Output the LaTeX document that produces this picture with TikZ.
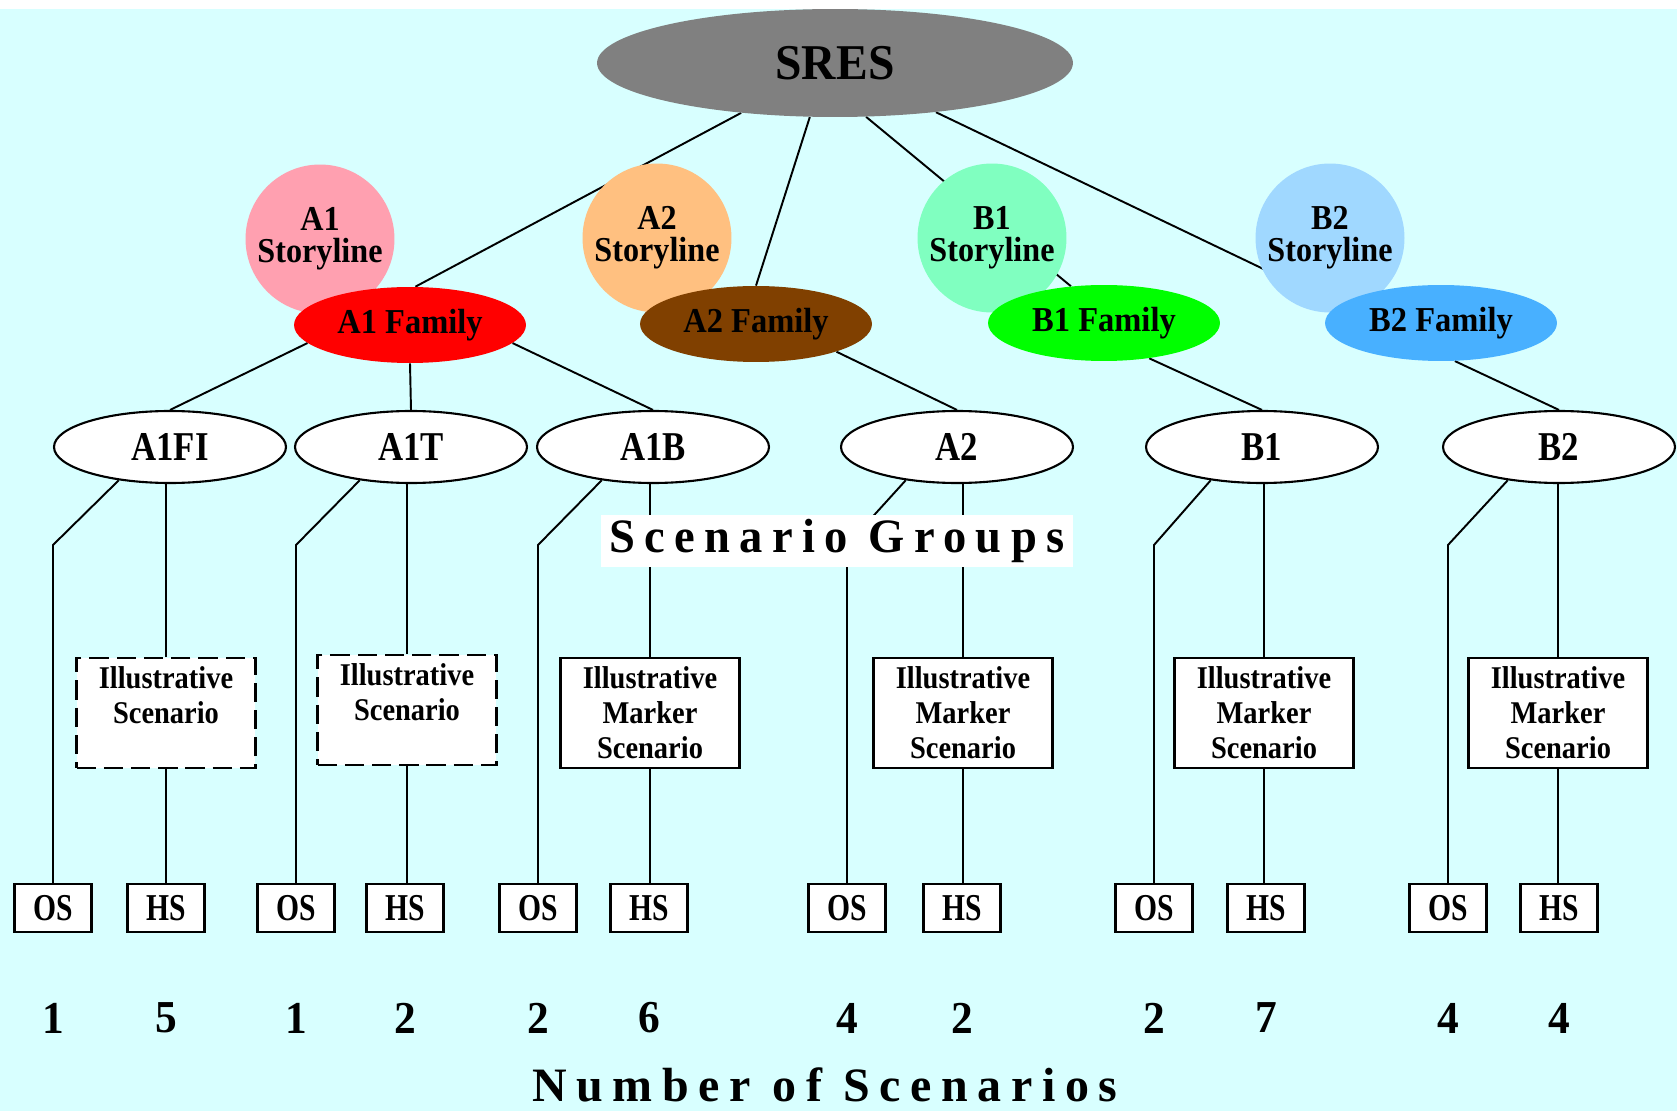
\documentclass[tikz,border=0pt]{standalone}
\usepackage{graphicx}
\usepackage{fontspec}
\setmainfont{Liberation Serif}
\newfontfamily\spacedfont[LetterSpace=20]{Liberation Serif}
\usetikzlibrary{shapes.geometric}
\pgfdeclarelayer{back}
\pgfdeclarelayer{wires}
\pgfsetlayers{back,wires,main}
\definecolor{sky}{HTML}{D8FFFF}
\definecolor{sresgray}{HTML}{808080}
\definecolor{aonestory}{HTML}{FFA0B0}
\definecolor{atwostory}{HTML}{FFC080}
\definecolor{bonestory}{HTML}{80FFC0}
\definecolor{btwostory}{HTML}{A0D8FF}
\definecolor{atwofam}{HTML}{804000}
\definecolor{btwofam}{HTML}{48B0FF}
\newcommand\nar[2]{\scalebox{#1}[1]{#2}}

\begin{document}
\begin{tikzpicture}[x=0.02cm,y=-0.02cm,
  wire/.style={line width=1.1pt},
  story/.style={circle,inner sep=0pt,minimum size=2.98cm,align=center,
    font=\fontsize{19.9}{18.2}\selectfont\bfseries},
  family/.style={ellipse,inner sep=0pt,minimum width=4.64cm,minimum height=1.52cm,
    font=\fontsize{19.9}{20}\selectfont\bfseries},
  group/.style={ellipse,draw,fill=white,line width=1.2pt,inner sep=0pt,
    minimum width=4.64cm,minimum height=1.44cm,font=\fontsize{23.3}{24}\selectfont\bfseries},
  marker/.style={draw,fill=white,line width=1.5pt,inner sep=0pt,align=center,
    minimum width=3.58cm,minimum height=2.2cm,font=\fontsize{18}{20}\selectfont\bfseries},
  illus/.style={marker,dash pattern=on 11pt off 4.5pt},
  leaf/.style={draw,fill=white,line width=1.4pt,inner sep=0pt,
    minimum width=1.54cm,minimum height=0.96cm,font=\fontsize{21.6}{22}\selectfont\bfseries},
  count/.style={inner sep=0pt,font=\fontsize{26}{26}\selectfont\bfseries},
  heading/.style={inner sep=0pt,font=\fontsize{27.3}{28}\spacedfont\bfseries}]

\useasboundingbox (0,0) rectangle (1677,1111);
\begin{pgfonlayer}{back}
\fill[white] (0,0) rectangle (1677,1111);
\fill[sky] (0,9) rectangle (1677,1111);
\end{pgfonlayer}

% top of the tree
\node[ellipse,fill=sresgray,inner sep=0pt,minimum width=9.52cm,minimum height=2.16cm,
  font=\fontsize{28.5}{30}\selectfont\bfseries] (sres) at (835,63) {\nar{.95}{SRES}};

% storylines and families
\node[story,fill=aonestory] (a1story) at (320,239) {\nar{.92}{A1}\\\nar{.92}{Storyline}};
\node[story,fill=atwostory] (a2story) at (657,238) {\nar{.92}{A2}\\\nar{.92}{Storyline}};
\node[story,fill=bonestory] (b1story) at (992,238) {\nar{.92}{B1}\\\nar{.92}{Storyline}};
\node[story,fill=btwostory] (b2story) at (1330,238) {\nar{.92}{B2}\\\nar{.92}{Storyline}};
\node[family,fill=red] (a1fam) at (410,325) {\nar{.93}{A1 Family}};
\node[family,fill=atwofam] (a2fam) at (756,324) {\nar{.93}{A2 Family}};
\node[family,fill=green] (b1fam) at (1104,323) {\nar{.93}{B1 Family}};
\node[family,fill=btwofam] (b2fam) at (1441,323) {\nar{.93}{B2 Family}};

% scenario groups
\node[group] (a1fi) at (170,447) {\nar{.85}{A1FI}};
\node[group] (a1t) at (411,447) {\nar{.85}{A1T}};
\node[group] (a1b) at (653,447) {\nar{.85}{A1B}};
\node[group] (a2) at (957,447) {\nar{.85}{A2}};
\node[group] (b1) at (1262,447) {\nar{.85}{B1}};
\node[group] (b2) at (1559,447) {\nar{.85}{B2}};

\node[heading,fill=white,minimum width=9.46cm,minimum height=1.04cm] (grouplabel) at (837,541)
  {\nar{.97}{Scenario Groups}};

% illustrative scenarios
\node[illus] (im1) at (166,713) {\nar{.9}{Illustrative}\\\nar{.9}{Scenario}\\\vphantom{S}};
\node[illus] (im2) at (407,710) {\nar{.9}{Illustrative}\\\nar{.9}{Scenario}\\\vphantom{S}};
\node[marker] (im3) at (650,713) {\nar{.9}{Illustrative}\\\nar{.9}{Marker}\\\nar{.9}{Scenario}};
\node[marker] (im4) at (963,713) {\nar{.9}{Illustrative}\\\nar{.9}{Marker}\\\nar{.9}{Scenario}};
\node[marker] (im5) at (1264,713) {\nar{.9}{Illustrative}\\\nar{.9}{Marker}\\\nar{.9}{Scenario}};
\node[marker] (im6) at (1558,713) {\nar{.9}{Illustrative}\\\nar{.9}{Marker}\\\nar{.9}{Scenario}};

% OS / HS and counts
\foreach \i/\ox/\hx/\on/\hn in {1/53/166/1/5,2/296/405/1/2,3/538/649/2/6,
                                4/847/962/4/2,5/1154/1266/2/7,6/1448/1559/4/4}{
  \node[leaf] (os\i) at (\ox,908) {\nar{.78}{OS}};
  \node[leaf] (hs\i) at (\hx,908) {\nar{.78}{HS}};
  \node[count] (nos\i) at (\ox,1018) {\nar{.95}{\on}};
  \node[count] (nhs\i) at (\hx,1018) {\nar{.95}{\hn}};
}

\node[heading] (countlabel) at (825,1085) {Number of Scenarios};

\begin{pgfonlayer}{wires}
\draw[wire] (sres.208.6) -- (a1fam.82);
\draw[wire] (sres.245) -- (a2fam.north);
\draw[wire] (sres.300) -- (b1fam.132);
\draw[wire] (sres.334) -- (b2fam.170);

\draw[wire] (a1fam.190) -- (a1fi.north);
\draw[wire] (a1fam.south) -- (a1t.north);
\draw[wire] (a1fam.350) -- (a1b.north);
\draw[wire] (a2fam.341.5) -- (a2.north);
\draw[wire] (b1fam.322) -- (b1.north);
\draw[wire] (b2fam.290) -- (b2.north);

\foreach \g/\i in {a1fi/1,a1t/2,a1b/3,a2/4,b1/5,b2/6}{
  \draw[wire] (\g.213) -- (os\i.north |- 0,545) -- (os\i.north);
  \draw[wire] (\g.south -| im\i.north) -- (im\i.north);
  \draw[wire] (im\i.south) -- (im\i.south |- hs\i.north);
}
\end{pgfonlayer}
\end{tikzpicture}
\end{document}
